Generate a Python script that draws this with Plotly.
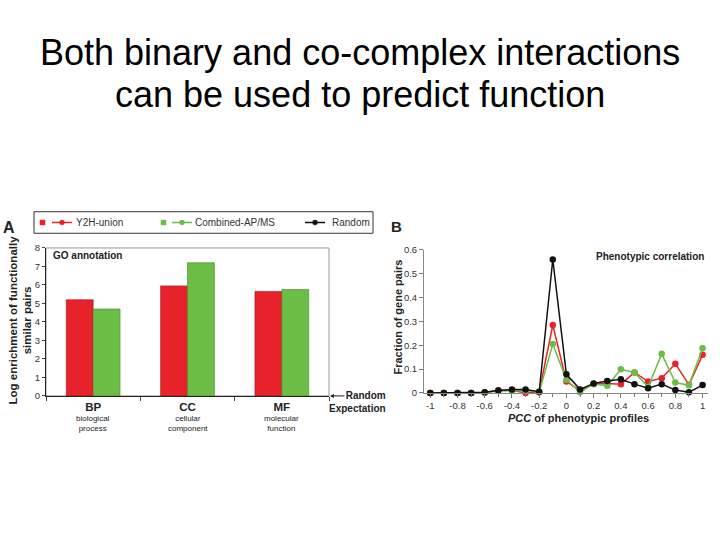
import plotly.graph_objects as go

# ---------- data ----------
categories = ["BP", "CC", "MF"]
category_labels = ["<b>BP</b>", "<b>CC</b>", "<b>MF</b>"]
category_sub = ["biological<br>process", "cellular<br>component", "molecular<br>function"]
y2h_enrich = [5.2, 5.95, 5.65]
apms_enrich = [4.7, 7.2, 5.75]

pcc = [-1, -0.9, -0.8, -0.7, -0.6, -0.5, -0.4, -0.3, -0.2, -0.1, 0,
       0.1, 0.2, 0.3, 0.4, 0.5, 0.6, 0.7, 0.8, 0.9, 1.0]
y2h_frac = [0, 0, 0, 0, 0.002, 0.011, 0.011, 0.0, 0.003, 0.285, 0.048,
            0.011, 0.038, 0.04, 0.037, 0.086, 0.048, 0.062, 0.123, 0.034, 0.16]
apms_frac = [0, 0, 0, 0, 0.001, 0.008, 0.01, 0.01, 0.003, 0.205, 0.055,
             0.003, 0.038, 0.03, 0.099, 0.086, 0.025, 0.164, 0.044, 0.032, 0.188]
random_frac = [0, 0, 0, 0, 0.003, 0.01, 0.014, 0.014, 0.005, 0.56, 0.078,
               0.015, 0.04, 0.05, 0.057, 0.037, 0.02, 0.037, 0.012, 0.003, 0.033]

a_yticks = [0, 1, 2, 3, 4, 5, 6, 7, 8]
b_xticks = [-1, -0.8, -0.6, -0.4, -0.2, 0, 0.2, 0.4, 0.6, 0.8, 1]
b_xticktext = ["-1", "-0.8", "-0.6", "-0.4", "-0.2", "0", "0.2", "0.4", "0.6", "0.8", "1"]
b_yticks = [0, 0.1, 0.2, 0.3, 0.4, 0.5, 0.6]
b_yticktext = ["0", "0.1", "0.2", "0.3", "0.4", "0.5", "0.6"]

title_lines = ["Both binary and co-complex interactions", "can be used to predict function"]

RED = "#E8222A"
GREEN = "#6BBD45"
BLACK = "#111111"
FONT = "Liberation Sans, Arial, sans-serif"
W, H = 720, 540


def px(x):
    return x / W


def py(y):
    return 1 - y / H


fig = go.Figure()

# ---------- panel A bars ----------
fig.add_trace(go.Bar(x=categories, y=y2h_enrich, name="Y2H-union",
                     marker=dict(color=RED, line=dict(color="#A01218", width=0.6)),
                     xaxis="x", yaxis="y", showlegend=False))
fig.add_trace(go.Bar(x=categories, y=apms_enrich, name="Combined-AP/MS",
                     marker=dict(color=GREEN, line=dict(color="#3E8A28", width=0.6)),
                     xaxis="x", yaxis="y", showlegend=False))

# ---------- panel B lines ----------
for vals, col, nm in [(y2h_frac, RED, "Y2H-union"), (apms_frac, GREEN, "Combined-AP/MS"),
                      (random_frac, BLACK, "Random")]:
    fig.add_trace(go.Scatter(x=pcc, y=vals, mode="lines+markers", name=nm,
                             line=dict(color=col, width=1.5),
                             marker=dict(color=col, size=6.5),
                             xaxis="x2", yaxis="y2", cliponaxis=False, showlegend=False))

tickfont = dict(family=FONT, size=9.5, color="#333333")

fig.update_layout(
    width=W, height=H,
    margin=dict(l=0, r=0, t=0, b=0),
    paper_bgcolor="white", plot_bgcolor="white",
    barmode="group", bargap=0.43, bargroupgap=0,
    font=dict(family=FONT, color="black"),
    xaxis=dict(domain=[px(46), px(329)], anchor="y", type="category", categoryorder="array",
               categoryarray=categories, tickvals=categories, ticktext=category_labels,
               tickson="boundaries", ticks="outside", ticklen=4, tickcolor="#444",
               showline=True, linecolor="#222", linewidth=1, showgrid=False,
               tickfont=dict(family=FONT, size=11.5, color="#222")),
    yaxis=dict(domain=[py(398), py(247)], anchor="x", range=[0, 8], tickvals=a_yticks,
               ticks="outside", ticklen=3, tickcolor="#444", showline=True,
               linecolor="#222", linewidth=1, showgrid=False, zeroline=False,
               tickfont=tickfont),
    xaxis2=dict(domain=[px(424), px(708)], anchor="y2", range=[-1.046, 1.04], tickvals=b_xticks,
                ticktext=b_xticktext, ticks="outside", ticklen=4, tickcolor="#777",
                minor=dict(dtick=0.1, tick0=-1, ticks="outside", ticklen=3, tickcolor="#777"),
                showline=True, linecolor="#888", linewidth=1, showgrid=False,
                zeroline=False, tickfont=tickfont),
    yaxis2=dict(domain=[py(395), py(249)], anchor="x2", range=[0, 0.6], tickvals=b_yticks,
                ticktext=b_yticktext, ticks="outside", ticklen=4, tickcolor="#777",
                showline=True, linecolor="#888", linewidth=1, showgrid=False,
                zeroline=False, tickfont=tickfont),
)

shapes = []
# panel A frame (gray top/right border)
shapes.append(dict(type="rect", xref="x domain", yref="y domain", x0=0, x1=1, y0=0, y1=1,
                   line=dict(color="#999999", width=1), layer="below"))
# legend box
shapes.append(dict(type="rect", xref="paper", yref="paper", x0=px(34), x1=px(373),
                   y0=py(232), y1=py(210), line=dict(color="#333", width=1),
                   fillcolor="white"))
legend_items = [("Y2H-union", RED, 40, 52, 74, True), ("Combined-AP/MS", GREEN, 161, 172, 193, True),
                ("Random", BLACK, None, 305, 330, False)]
annotations = []
ly = 221
for name, col, sqx, lx, tx, sq in legend_items:
    if sq:
        shapes.append(dict(type="rect", xref="paper", yref="paper", x0=px(sqx), x1=px(sqx + 5),
                           y0=py(ly + 2.5), y1=py(ly - 2.5), line=dict(color=col, width=0.5),
                           fillcolor=col))
    shapes.append(dict(type="line", xref="paper", yref="paper", x0=px(lx), x1=px(lx + 20),
                       y0=py(ly), y1=py(ly), line=dict(color=col, width=1.5)))
    shapes.append(dict(type="circle", xref="paper", yref="paper", x0=px(lx + 7.5), x1=px(lx + 12.5),
                       y0=py(ly + 2.5), y1=py(ly - 2.5), line=dict(color=col, width=0.5),
                       fillcolor=col))
    annotations.append(dict(text=name, xref="paper", yref="paper", x=px(tx), y=py(ly),
                            xanchor="left", yanchor="middle", showarrow=False,
                            font=dict(family=FONT, size=10, color="#333")))

# title (two lines)
for line, yc in zip(title_lines, [47, 90]):
    annotations.append(dict(text=line, xref="paper", yref="paper", x=0.5, y=py(yc),
                            xanchor="center", yanchor="middle", showarrow=False,
                            font=dict(family=FONT, size=36, color="black")))
# panel letters
annotations.append(dict(text="<b>A</b>", xref="paper", yref="paper", x=px(1), y=py(226),
                        xanchor="left", yanchor="middle", showarrow=False,
                        font=dict(family=FONT, size=16, color="#222")))
annotations.append(dict(text="<b>B</b>", xref="paper", yref="paper", x=px(389), y=py(225),
                        xanchor="left", yanchor="middle", showarrow=False,
                        font=dict(family=FONT, size=15, color="#222")))
# axis titles
annotations.append(dict(text="<b>Log enrichment of functionally<br>similar pairs</b>",
                        xref="paper", yref="paper", x=px(20), y=py(321), textangle=-90,
                        xanchor="center", yanchor="middle", showarrow=False,
                        font=dict(family=FONT, size=11.5, color="#222")))
annotations.append(dict(text="<b>Fraction of gene pairs</b>",
                        xref="paper", yref="paper", x=px(398), y=py(318), textangle=-90,
                        xanchor="center", yanchor="middle", showarrow=False,
                        font=dict(family=FONT, size=11, color="#222")))
annotations.append(dict(text="<b><i>PCC</i> of phenotypic profiles</b>",
                        xref="paper", yref="paper", x=px(578), y=py(421),
                        xanchor="center", yanchor="middle", showarrow=False,
                        font=dict(family=FONT, size=11, color="#222")))
# inner labels
annotations.append(dict(text="<b>GO annotation</b>", xref="paper", yref="paper",
                        x=px(51), y=py(255), xanchor="left", yanchor="middle", showarrow=False,
                        font=dict(family=FONT, size=10, color="#222")))
annotations.append(dict(text="<b>Phenotypic correlation</b>", xref="paper", yref="paper",
                        x=px(706), y=py(256), xanchor="right", yanchor="middle", showarrow=False,
                        font=dict(family=FONT, size=10, color="#222")))
# category sub labels
for cat, sub in zip(categories, category_sub):
    annotations.append(dict(text=sub, xref="x", yref="paper", x=cat, y=py(426),
                            xanchor="center", yanchor="middle", showarrow=False,
                            font=dict(family=FONT, size=8, color="#222")))
# random expectation
annotations.append(dict(text="<b>Random<br>Expectation</b>", xref="paper", yref="paper",
                        x=px(388), y=py(404), xanchor="right", yanchor="middle", showarrow=False,
                        align="right", font=dict(family=FONT, size=10, color="#222")))
annotations.append(dict(text="", xref="paper", yref="paper", x=px(330), y=py(398),
                        ax=16, ay=0, axref="pixel", ayref="pixel",
                        showarrow=True, arrowhead=2, arrowsize=0.8, arrowwidth=1,
                        arrowcolor="#222"))

fig.update_layout(shapes=shapes, annotations=annotations)
fig.write_html("out.html", config={"displayModeBar": False},
               post_script="document.body.style.margin='0';document.body.style.overflow='hidden';")
